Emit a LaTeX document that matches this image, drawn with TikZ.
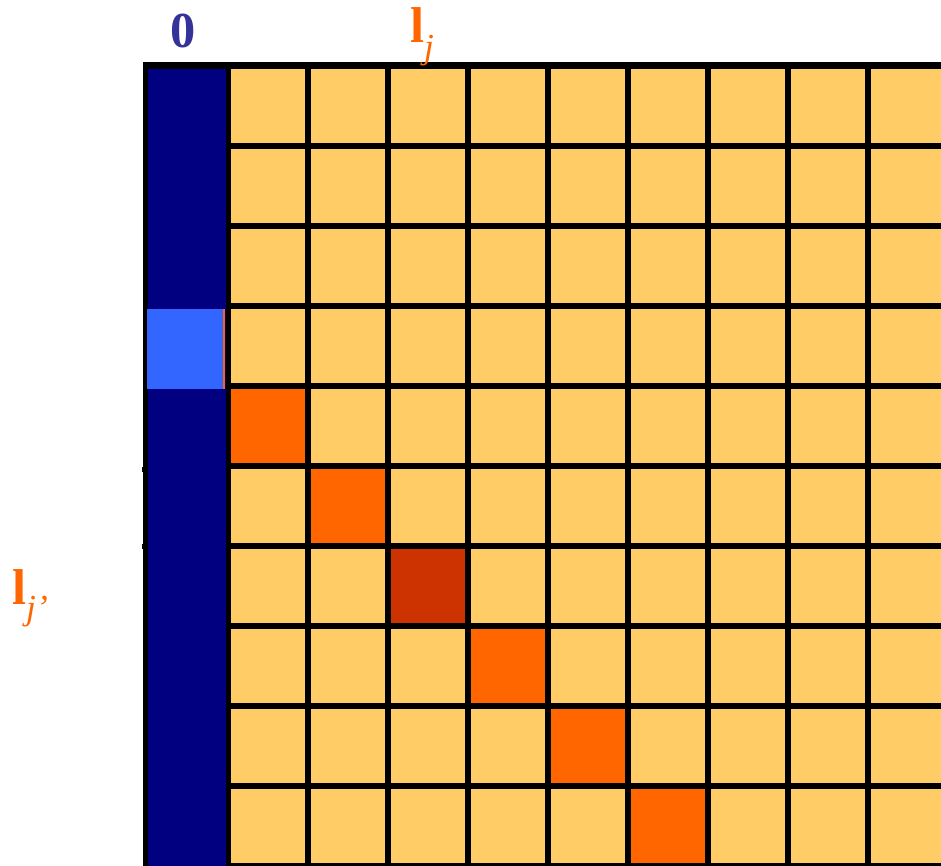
\documentclass[tikz,border=0pt]{standalone}
\usepackage{fontspec}
\setmainfont{Liberation Serif}
\definecolor{cellfill}{HTML}{FFCC66}
\definecolor{navy}{HTML}{000080}
\definecolor{pickblue}{HTML}{3366FF}
\definecolor{hot}{HTML}{FF6600}
\definecolor{hotdark}{HTML}{CC3300}
\definecolor{zeroblue}{HTML}{333399}

\begin{document}
\begin{tikzpicture}[x=0.03cm, y=-0.03cm,
  cell/.style={fill=cellfill},
  lbl/.style={inner sep=0pt, font=\fontsize{43}{43}\selectfont\bfseries}]
  \useasboundingbox (0,0) rectangle (941,866);

  \begin{scope}
    \clip (0,0) rectangle (941,866);
    % Black backing shows through as the grid lines
    \fill[black] (143,62) rectangle (960,900);
    % First column, one dark strip with no inner lines
    \fill[navy] (147.5,69) rectangle (226,900);
    % Picked entry of the first column
    \fill[pickblue] (146.5,308.5) rectangle (223,388.5);
    \fill[hot] (223,308.5) rectangle (225,388.5);
    % Light cells, column \c from 148+80c, row \r from 66+80r
    \foreach \c in {1,...,9} {
      \foreach \r in {0,...,10} {
        \fill[cell] ({148+80*\c+3},{66+80*\r+3}) rectangle ({228+80*\c-3},{146+80*\r-3});
      }
    }
    % Diagonal of highlighted cells
    \foreach \c/\r in {1/4,2/5,4/7,5/8,6/9} {
      \fill[hot] ({148+80*\c+3},{66+80*\r+3}) rectangle ({228+80*\c-3},{146+80*\r-3});
    }
    \fill[hotdark] ({148+80*3+3},{66+80*6+3}) rectangle ({228+80*3-3},{146+80*6-3});
  \end{scope}

  % Short stubs left of the border
  \fill[black] (141.5,467) rectangle (146,472);
  \fill[black] (141.5,544) rectangle (146,549);

  % Labels
  \node[lbl, text=zeroblue, anchor=base] (zero) at (183,47) {0};
  \node[lbl, text=hot, anchor=base west] (lj) at (410,42)
    {l\raisebox{-0.33em}{\fontsize{30}{30}\selectfont\mdseries\itshape j}};
  \node[lbl, text=hot, anchor=base west] (ljp) at (12,604)
    {l\raisebox{-0.3em}{\fontsize{30}{30}\selectfont\mdseries\itshape j’}};
\end{tikzpicture}
\end{document}
